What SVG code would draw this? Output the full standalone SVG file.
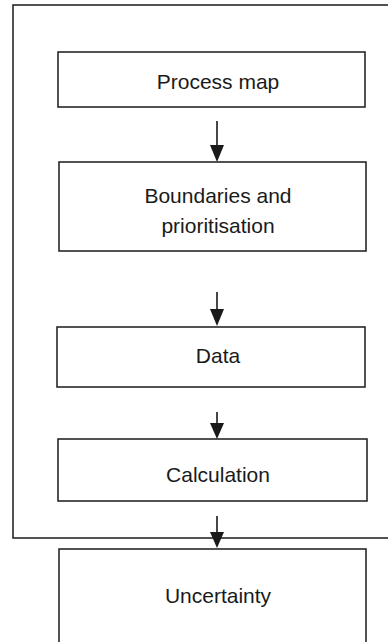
<svg xmlns="http://www.w3.org/2000/svg" width="388" height="642" viewBox="0 0 388 642">
<style>
.box{fill:#fff;stroke:#1a1a1a;stroke-width:1.5}
.frame{fill:none;stroke:#1a1a1a;stroke-width:1.5}
.lbl{font-family:"Liberation Sans",Arial,sans-serif;font-size:21px;fill:#1a1a1a;text-anchor:middle}
.conn{stroke:#1a1a1a;stroke-width:1.6;fill:none}
</style>
<defs>
<marker id="ah" markerUnits="userSpaceOnUse" markerWidth="14" markerHeight="18" refX="7" refY="17" orient="auto-start-reverse" viewBox="0 0 14 18">
<path d="M0,0 L14,0 L7,17 Z" fill="#1a1a1a" transform="rotate(0)"/>
</marker>
</defs>
<rect width="388" height="642" fill="#fff"/>
<g id="frame"><rect class="frame" x="13" y="5" width="400" height="533"/></g>
<g id="process-map"><rect class="box" x="58" y="52" width="307" height="55"/><text class="lbl" x="218" y="89">Process map</text></g>
<g id="boundaries"><rect class="box" x="59" y="162" width="307" height="89"/><text class="lbl" x="218" y="203">Boundaries and</text><text class="lbl" x="218" y="233">prioritisation</text></g>
<g id="data"><rect class="box" x="57" y="327" width="308" height="60"/><text class="lbl" x="218" y="363">Data</text></g>
<g id="calculation"><rect class="box" x="58" y="439" width="309" height="62"/><text class="lbl" x="218" y="482">Calculation</text></g>
<g id="uncertainty"><rect class="box" x="59" y="549" width="307" height="110"/><text class="lbl" x="218" y="603">Uncertainty</text></g>
<g id="connectors">
<line class="conn" x1="217" y1="121" x2="217" y2="145"/><path d="M210,145 L224,145 L217,162 Z" fill="#1a1a1a"/>
<line class="conn" x1="217" y1="292" x2="217" y2="309"/><path d="M210,309 L224,309 L217,326 Z" fill="#1a1a1a"/>
<line class="conn" x1="217" y1="412" x2="217" y2="424"/><path d="M210,423 L224,423 L217,439 Z" fill="#1a1a1a"/>
<line class="conn" x1="217" y1="516" x2="217" y2="532"/><path d="M210,532 L224,532 L217,548 Z" fill="#1a1a1a"/>
</g>
</svg>
